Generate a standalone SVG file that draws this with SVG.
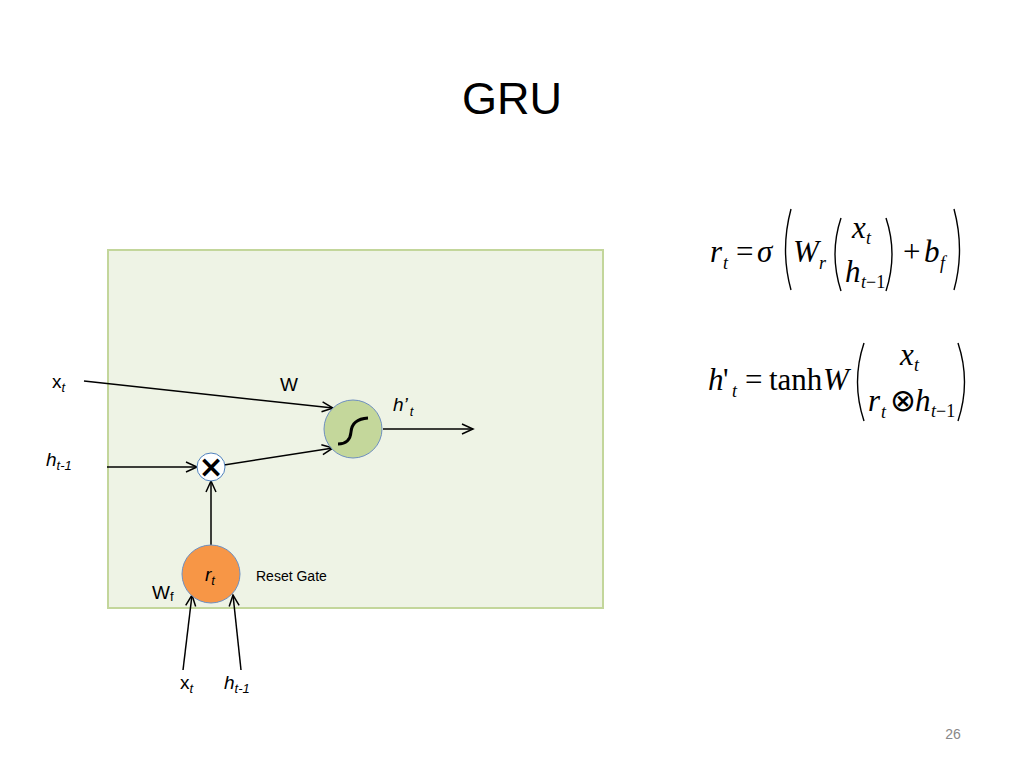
<svg xmlns="http://www.w3.org/2000/svg" width="1024" height="768" viewBox="0 0 1024 768">
<defs>
<marker id="arr" markerWidth="14" markerHeight="14" refX="12" refY="6" orient="auto" markerUnits="userSpaceOnUse">
<path d="M1,1 L12,6 L1,11" fill="none" stroke="#000" stroke-width="1.5"/>
</marker>
<style>
.lbl{font-family:"Liberation Sans",Arial,sans-serif;font-size:19px;fill:#000}
.sub{font-size:13px;font-style:italic}
.math{font-family:"Liberation Serif","Times New Roman",serif;font-size:31px;fill:#000}
.mi{font-style:italic}
.ms{font-size:18px;font-style:italic}
.mn{font-size:18px;font-style:normal}
.par{fill:none;stroke:#000;stroke-width:1.4}
.con{fill:none;stroke:#000;stroke-width:1.5}
</style>
</defs>
<rect width="1024" height="768" fill="#fff"/>
<text x="512" y="114" text-anchor="middle" font-family="'Liberation Sans',Arial,sans-serif" font-size="45" fill="#000">GRU</text>

<g id="panel"><rect x="108" y="250" width="495" height="358" fill="#EEF3E5" stroke="#C3D69B" stroke-width="2"/></g>

<g id="connectors">
<line class="con" x1="84" y1="381" x2="333" y2="408" marker-end="url(#arr)"/>
<line class="con" x1="107" y1="467" x2="197" y2="467" marker-end="url(#arr)"/>
<line class="con" x1="224" y1="465" x2="333" y2="448" marker-end="url(#arr)"/>
<line class="con" x1="383" y1="429" x2="473" y2="429" marker-end="url(#arr)"/>
<line class="con" x1="211" y1="545" x2="211" y2="481" marker-end="url(#arr)"/>
<line class="con" x1="183" y1="670" x2="192" y2="595" marker-end="url(#arr)"/>
<line class="con" x1="241" y1="670" x2="233" y2="595" marker-end="url(#arr)"/>
</g>

<g id="sigmoid">
<circle cx="353" cy="429" r="29" fill="#C4D79B" stroke="#6E8FBF" stroke-width="1"/>
<path d="M338,444 Q350,444 351,432 Q352,419 368,418" fill="none" stroke="#000" stroke-width="3"/>
</g>
<g id="multiply">
<circle cx="211" cy="467" r="14" fill="#fff" stroke="#4F81BD" stroke-width="1"/>
<text x="211" y="477" text-anchor="middle" font-family="'DejaVu Sans',sans-serif" font-size="30" font-weight="bold">×</text>
</g>
<g id="resetgate">
<circle cx="211" cy="574" r="29" fill="#F79646" stroke="#6E8FBF" stroke-width="1"/>
<text class="lbl" x="205" y="581" font-style="italic">r<tspan class="sub" font-size="14" dy="4">t</tspan></text>
<text x="256" y="581" font-family="'Liberation Sans',Arial,sans-serif" font-size="14">Reset Gate</text>
</g>

<g id="labels">
<text class="lbl" x="52" y="388">x<tspan class="sub" dy="4">t</tspan></text>
<text class="lbl" x="46" y="466" font-style="italic">h<tspan class="sub" dy="4">t-1</tspan></text>
<text class="lbl" x="280" y="391">W</text>
<text class="lbl" x="393" y="411" font-style="italic">h’<tspan class="sub" dy="5" dx="2">t</tspan></text>
<text class="lbl" x="152" y="599">W<tspan font-size="13" dy="2">f</tspan></text>
<text class="lbl" x="180" y="689">x<tspan class="sub" dy="4">t</tspan></text>
<text class="lbl" x="224" y="689" font-style="italic">h<tspan class="sub" dy="4">t-1</tspan></text>
</g>

<g id="formula1">
<text class="math mi" x="710" y="262">r</text>
<text class="math ms" x="723" y="269">t</text>
<text class="math" x="736" y="262">=</text>
<text class="math mi" x="757" y="262">σ</text>
<text class="math mi" x="793" y="262">W</text>
<text class="math ms" x="819" y="269">r</text>
<text class="math mi" x="852" y="238">x</text>
<text class="math ms" x="866" y="244">t</text>
<text class="math mi" x="845" y="282">h</text>
<text class="math ms" x="861" y="288">t<tspan class="mn">−1</tspan></text>
<text class="math" x="903" y="262">+</text>
<text class="math mi" x="924" y="262">b</text>
<text class="math ms" x="940" y="269">f</text>
<path class="par" d="M791,209 Q780,250 791,290"/>
<path class="par" d="M954,209 Q965,250 954,290"/>
<path class="par" d="M841,218 Q829,254 841,291"/>
<path class="par" d="M886,218 Q898,254 886,291"/>
</g>

<g id="formula2">
<text class="math mi" x="708" y="390">h</text>
<text class="math" x="723" y="390">'</text>
<text class="math ms" x="732" y="397">t</text>
<text class="math" x="745" y="390">=</text>
<text class="math" x="769" y="390">tanh</text>
<text class="math mi" x="823" y="390">W</text>
<text class="math mi" x="900" y="365">x</text>
<text class="math ms" x="914" y="371">t</text>
<text class="math mi" x="868" y="411">r</text>
<text class="math ms" x="881" y="418">t</text>
<text class="math" x="890" y="411">⊗</text>
<text class="math mi" x="915" y="411">h</text>
<text class="math ms" x="931" y="417">t<tspan class="mn">−1</tspan></text>
<path class="par" d="M864,343 Q851,382 864,421"/>
<path class="par" d="M958,343 Q971,382 958,421"/>
</g>

<text x="953" y="739" text-anchor="middle" font-family="'Liberation Sans',Arial,sans-serif" font-size="14" fill="#888">26</text>
</svg>
